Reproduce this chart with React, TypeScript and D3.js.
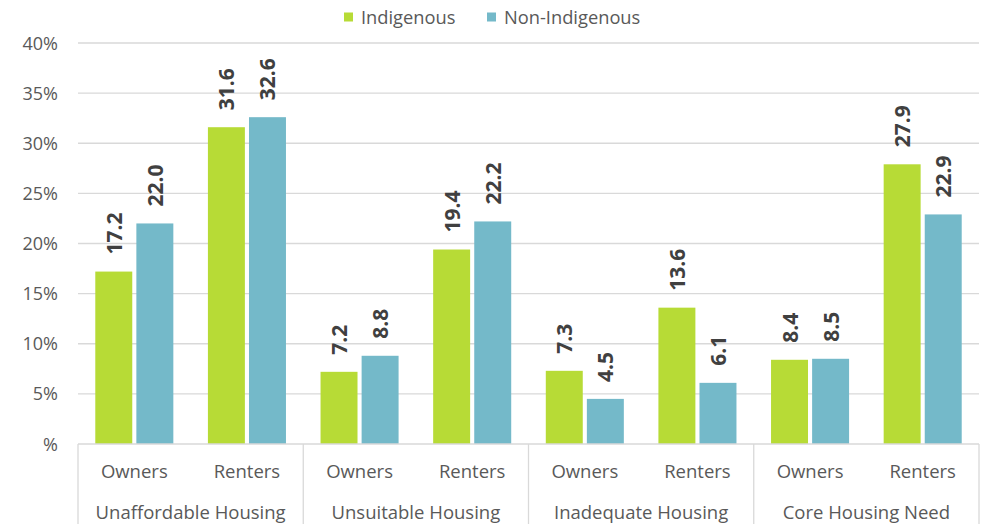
import * as d3 from 'd3';

const groups = ['Unaffordable Housing', 'Unsuitable Housing', 'Inadequate Housing', 'Core Housing Need'];
const tenures = ['Owners', 'Renters'];
const seriesNames = ['Indigenous', 'Non-Indigenous'];
const indigenous = [17.2, 31.6, 7.2, 19.4, 7.3, 13.6, 8.4, 27.9];
const nonIndigenous = [22.0, 32.6, 8.8, 22.2, 4.5, 6.1, 8.5, 22.9];
const yTicks = [0, 5, 10, 15, 20, 25, 30, 35, 40];

const colors = ['#b7db36', '#74b9c9'];
const font = '"Open Sans", Carlito, Calibri, sans-serif';

export default function App() {
  const width = 986;
  const height = 524;
  const left = 78;
  const right = 979;
  const top = 43;
  const bottom = 444;

  const slots = groups.flatMap((g) => tenures.map((t) => `${g}|${t}`));
  const x = d3.scaleBand().domain(slots).range([left, right]).paddingInner(0.307).paddingOuter(0.1535);
  const x1 = d3.scaleBand().domain(seriesNames).range([0, x.bandwidth()]).paddingInner(0.1);
  const y = d3.scaleLinear().domain([0, 40]).range([bottom, top]);
  const groupX = d3.scaleBand().domain(groups).range([left, right]);
  const slotX = d3.scaleBand().domain(slots).range([left, right]);

  const series = [indigenous, nonIndigenous];

  return (
    <svg width={width} height={height} style={{ position: 'absolute', left: 0, top: 0 }}>
      <rect width={width} height={height} fill="#fff" />
      {/* gridlines and y labels */}
      {yTicks.map((t) => (
        <g key={t}>
          {t > 0 && <line x1={left} x2={right} y1={y(t)} y2={y(t)} stroke="#d9d9d9" strokeWidth={1.3} />}
          <text x={58} y={y(t) + 6.5} textAnchor="end" fontFamily={font} fontSize={18} fill="#595959">
            {t === 0 ? '%' : `${t}%`}
          </text>
        </g>
      ))}
      {/* bars */}
      {slots.map((s, i) => (
        <g key={s} transform={`translate(${x(s)},0)`}>
          {seriesNames.map((name, j) => {
            const v = series[j][i];
            const bx = x1(name)!;
            const cx = bx + x1.bandwidth() / 2;
            return (
              <g key={name}>
                <rect x={bx} y={y(v)} width={x1.bandwidth()} height={bottom - y(v)} fill={colors[j]} />
                <text
                  transform={`translate(${cx + 8},${y(v) - 17}) rotate(-90)`}
                  fontFamily={font}
                  fontSize={21}
                  fontWeight="bold"
                  fill="#404040"
                >
                  {v.toFixed(1)}
                </text>
              </g>
            );
          })}
        </g>
      ))}
      {/* category axis box */}
      <line x1={left} x2={right} y1={bottom} y2={bottom} stroke="#d9d9d9" strokeWidth={1.3} />
      {groups.map((g) => (
        <line key={g} x1={groupX(g)!} x2={groupX(g)!} y1={bottom} y2={height} stroke="#d9d9d9" strokeWidth={1.3} />
      ))}
      <line x1={right} x2={right} y1={bottom} y2={height} stroke="#d9d9d9" strokeWidth={1.3} />
      {slots.map((s) => (
        <text
          key={s}
          x={slotX(s)! + slotX.bandwidth() / 2}
          y={478}
          textAnchor="middle"
          fontFamily={font}
          fontSize={18.5}
          fill="#595959"
        >
          {s.split('|')[1]}
        </text>
      ))}
      {groups.map((g) => (
        <text
          key={g}
          x={groupX(g)! + groupX.bandwidth() / 2}
          y={519}
          textAnchor="middle"
          fontFamily={font}
          fontSize={18.5}
          fill="#595959"
        >
          {g}
        </text>
      ))}
      {/* legend */}
      {seriesNames.map((name, j) => {
        const lx = j === 0 ? 344 : 487;
        return (
          <g key={name}>
            <rect x={lx} y={12.5} width={9} height={9} fill={colors[j]} />
            <text x={lx + 17} y={23.5} fontFamily={font} fontSize={18.3} fill="#595959">
              {name}
            </text>
          </g>
        );
      })}
    </svg>
  );
}
